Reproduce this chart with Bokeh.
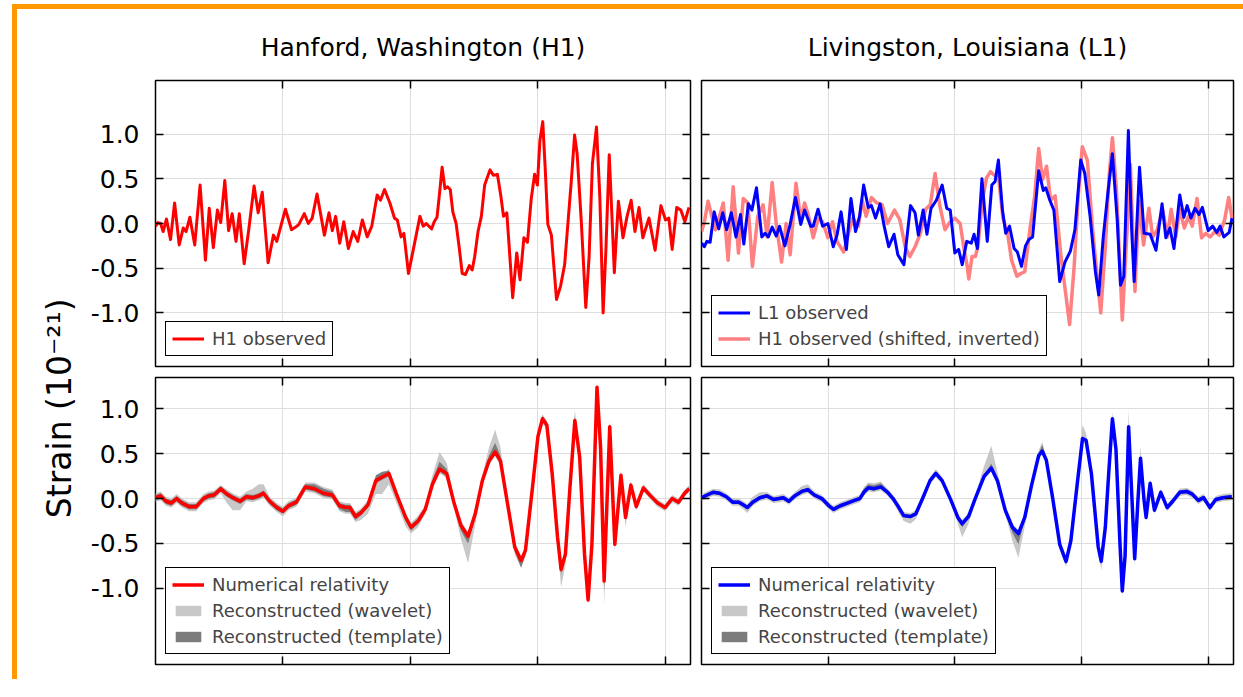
import math
from bokeh.plotting import figure
from bokeh.models import (Range1d, LinearAxis, FixedTicker, Legend, LegendItem, Label,
                          GridBox, PrintfTickFormatter, CustomJSTickFormatter)
from bokeh.embed import file_html
from bokeh.resources import INLINE

# ---------------- data (time in s, strain in 1e-21) ----------------
X_TICKS = [0.30, 0.35, 0.40, 0.45]
Y_TICKS = [-1.0, -0.5, 0.0, 0.5, 1.0]

H1_T = [0.2501, 0.2509, 0.2520, 0.2530, 0.2543, 0.2559, 0.2575, 0.2593, 0.2609, 0.2620,
        0.2635, 0.2654, 0.2675, 0.2696, 0.2711, 0.2727, 0.2743, 0.2756, 0.2772, 0.2787,
        0.2801, 0.2816, 0.2829, 0.2848, 0.2866, 0.2887, 0.2903, 0.2919, 0.2942, 0.2963,
        0.2976, 0.2992, 0.3010, 0.3034, 0.3050, 0.3063, 0.3084, 0.3100, 0.3115, 0.3134,
        0.3163, 0.3181, 0.3194, 0.3207, 0.3223, 0.3239, 0.3257, 0.3276, 0.3294, 0.3312,
        0.3331, 0.3349, 0.3370, 0.3383, 0.3399, 0.3420, 0.3438, 0.3449, 0.3464, 0.3475,
        0.3493, 0.3517, 0.3538, 0.3551,
        0.3563, 0.3573, 0.3584, 0.3594, 0.3605, 0.3615, 0.3625, 0.3636, 0.3646, 0.3657,
        0.3667, 0.3680, 0.3693, 0.3704, 0.3717, 0.3732, 0.3743, 0.3753, 0.3766, 0.3779,
        0.3792, 0.3813, 0.3826, 0.3842, 0.3855, 0.3866, 0.3879, 0.3889, 0.3902, 0.3918,
        0.3931, 0.3946, 0.3960, 0.3975, 0.3988, 0.3999, 0.4009, 0.4020, 0.4030, 0.4040,
        0.4054, 0.4074, 0.4090, 0.4106, 0.4121, 0.4132, 0.4145, 0.4155, 0.4171, 0.4189,
        0.4202, 0.4215, 0.4231, 0.4244, 0.4257, 0.4268, 0.4281, 0.4291, 0.4301, 0.4317,
        0.4335, 0.4351, 0.4367, 0.4382, 0.4398, 0.4413, 0.4437, 0.4461, 0.4484, 0.4502,
        0.4515, 0.4528, 0.4546, 0.4562, 0.4578, 0.4594]
H1_OBS = [-0.03, 0.01, 0.00, -0.09, 0.05, -0.18, 0.23, -0.24, -0.05, -0.09,
          0.07, -0.24, 0.43, -0.41, 0.17, -0.27, 0.15, 0.01, 0.48, -0.08,
          0.11, -0.20, 0.11, -0.45, -0.07, 0.42, 0.12, 0.35, -0.44, -0.13,
          -0.20, -0.03, 0.16, -0.07, -0.04, -0.01, 0.11, 0.00, 0.06, 0.33,
          -0.13, 0.12, -0.08, 0.08, -0.22, 0.02, -0.28, -0.09, -0.20, 0.04,
          -0.15, -0.03, 0.32, 0.26, 0.38, 0.23, 0.06, 0.04, -0.15, -0.11,
          -0.56, -0.22, 0.08, -0.03,
          0.00, -0.03, -0.06, 0.02, 0.07, 0.34, 0.63, 0.39, 0.41, 0.38,
          0.13, 0.00, -0.29, -0.56, -0.57, -0.47, -0.52, -0.37, -0.09, 0.08,
          0.43, 0.60, 0.54, 0.55, 0.32, 0.08, 0.12, -0.29, -0.83, -0.33,
          -0.63, -0.16, -0.21, 0.28, 0.55, 0.43, 0.93, 1.14, 0.60, -0.01,
          -0.13, -0.85, -0.70, -0.46, 0.08, 0.47, 0.99, 0.78, 0.04, -0.94,
          -0.37, 0.67, 1.08, 0.30, -1.00, -0.29, 0.77, 0.12, -0.55, 0.25,
          -0.16, 0.08, 0.26, -0.09, 0.18, -0.16, 0.06, -0.30, 0.20, 0.04,
          0.06, -0.29, 0.18, 0.15, 0.02, 0.18]

L1_T = [0.2501, 0.2511, 0.2521, 0.2534, 0.2550, 0.2568, 0.2584, 0.2599, 0.2618, 0.2636,
        0.2654, 0.2667, 0.2685, 0.2699, 0.2717, 0.2738, 0.2751, 0.2764, 0.2779, 0.2795,
        0.2808, 0.2829, 0.2850, 0.2871, 0.2892, 0.2907, 0.2931, 0.2941, 0.2960, 0.2978,
        0.2999, 0.3020, 0.3035, 0.3051, 0.3072, 0.3090, 0.3108, 0.3124, 0.3140, 0.3158,
        0.3171, 0.3187, 0.3205, 0.3221, 0.3239, 0.3260, 0.3275, 0.3299, 0.3325, 0.3343,
        0.3356, 0.3375, 0.3390, 0.3406, 0.3427, 0.3450, 0.3468, 0.3482, 0.3500, 0.3515,
        0.3529, 0.3547,
        0.3565, 0.3576, 0.3589, 0.3607, 0.3628, 0.3646, 0.3659, 0.3672, 0.3688, 0.3701,
        0.3716, 0.3734, 0.3747, 0.3763, 0.3779, 0.3792, 0.3807, 0.3831, 0.3849, 0.3859,
        0.3875, 0.3891, 0.3914, 0.3935, 0.3956, 0.3974, 0.3997, 0.4013, 0.4034, 0.4055,
        0.4068, 0.4086, 0.4104, 0.4122, 0.4141, 0.4154, 0.4167, 0.4185, 0.4198, 0.4208,
        0.4229, 0.4247, 0.4271, 0.4294, 0.4318, 0.4333, 0.4349, 0.4365, 0.4388, 0.4404,
        0.4417, 0.4432, 0.4448, 0.4464, 0.4477, 0.4500, 0.4518, 0.4534, 0.4547, 0.4562,
        0.4583, 0.4594]
L1_OBS = [-0.22, -0.26, -0.20, -0.21, 0.13, -0.06, 0.12, -0.07, 0.12, -0.15,
          0.10, -0.23, 0.22, 0.15, 0.40, -0.15, -0.11, -0.15, -0.04, -0.14,
          -0.03, -0.25, -0.01, 0.29, -0.01, 0.15, -0.03, -0.03, 0.16, -0.03,
          0.00, -0.26, -0.13, 0.13, -0.29, 0.28, -0.09, 0.08, 0.43, 0.18,
          0.20, 0.06, 0.22, -0.03, -0.26, -0.12, -0.35, -0.46, 0.20, 0.12,
          -0.13, 0.15, -0.12, 0.17, 0.26, 0.43, 0.17, 0.15, -0.33, -0.29,
          -0.46, -0.20,
          -0.22, -0.12, -0.28, 0.50, -0.20, 0.43, 0.47, 0.71, 0.15, -0.11,
          -0.03, -0.28, -0.32, -0.48, -0.25, -0.18, -0.15, 0.59, 0.37, 0.40,
          0.26, 0.15, -0.65, -0.43, -0.31, -0.07, 0.71, 0.56, 0.08, -0.54,
          -0.80, -0.15, 0.34, 0.78, 0.04, -0.69, -0.59, 1.04, -0.07, -0.65,
          0.63, -0.11, -0.12, -0.30, 0.22, -0.16, -0.05, -0.28, 0.32, 0.07,
          0.20, 0.06, 0.17, 0.10, 0.18, -0.08, -0.03, -0.10, -0.03, -0.15,
          -0.10, 0.06]

H1S_T = [0.2501, 0.2513, 0.2526, 0.2539, 0.2555, 0.2571, 0.2586, 0.2605, 0.2625, 0.2646,
         0.2665, 0.2683, 0.2701, 0.2722, 0.2743, 0.2759, 0.2779, 0.2795, 0.2816, 0.2834,
         0.2850, 0.2873, 0.2892, 0.2907, 0.2923, 0.2941, 0.2960, 0.2978, 0.2999, 0.3017,
         0.3035, 0.3061, 0.3080, 0.3098, 0.3119, 0.3134, 0.3150, 0.3171, 0.3192, 0.3213,
         0.3234, 0.3262, 0.3283, 0.3304, 0.3322, 0.3343, 0.3364, 0.3385, 0.3403, 0.3422,
         0.3440, 0.3461, 0.3479, 0.3500, 0.3521, 0.3536, 0.3549,
         0.3555, 0.3568, 0.3581, 0.3591, 0.3609, 0.3625, 0.3641, 0.3656, 0.3672, 0.3690,
         0.3708, 0.3724, 0.3745, 0.3760, 0.3776, 0.3797, 0.3815, 0.3831, 0.3846, 0.3862,
         0.3878, 0.3896, 0.3919, 0.3953, 0.3971, 0.3987, 0.4003, 0.4023, 0.4044, 0.4076,
         0.4094, 0.4109, 0.4122, 0.4138, 0.4161, 0.4180, 0.4193, 0.4211, 0.4227, 0.4245,
         0.4266, 0.4281, 0.4299, 0.4320, 0.4339, 0.4354, 0.4372, 0.4388, 0.4406, 0.4422,
         0.4437, 0.4456, 0.4474, 0.4490, 0.4508, 0.4526, 0.4544, 0.4565, 0.4581, 0.4594]
H1_SHIFTED_INV = [-0.09, 0.04, 0.25, 0.10, -0.07, 0.08, 0.23, -0.41, 0.41, -0.33,
                  0.28, 0.23, -0.48, 0.08, 0.21, -0.15, 0.46, 0.00, -0.43, 0.00,
                  -0.35, 0.45, 0.04, 0.23, 0.08, -0.16, 0.05, 0.02, -0.16, 0.02,
                  -0.20, -0.32, -0.11, 0.06, -0.03, 0.26, 0.08, 0.29, 0.23, 0.21,
                  0.00, 0.15, 0.04, -0.26, -0.37, -0.26, -0.11, 0.16, 0.21, 0.56,
                  0.21, -0.07, 0.01, 0.06, 0.00, -0.28, -0.48,
                  -0.62, -0.37, -0.37, -0.26, 0.26, 0.51, 0.58, 0.54, 0.53, 0.06,
                  -0.11, -0.41, -0.59, -0.56, -0.54, -0.05, 0.30, 0.84, 0.49, 0.64,
                  0.26, 0.31, -0.37, -1.13, -0.48, 0.30, 0.86, 0.71, -0.07, -1.00,
                  -0.26, 0.53, 0.96, 0.38, -1.08, -0.07, 0.66, -0.76, 0.25, -0.24,
                  0.17, -0.15, -0.07, 0.16, -0.15, 0.16, -0.15, 0.16, -0.05, 0.08,
                  -0.03, 0.28, -0.16, -0.11, -0.15, -0.09, -0.13, 0.04, 0.29, 0.06]

# H1 numerical relativity + reconstruction band deviations
H1NR_T = [0.2500, 0.2520, 0.2541, 0.2562, 0.2583, 0.2604, 0.2632, 0.2660, 0.2688, 0.2709,
          0.2730, 0.2756, 0.2780, 0.2803, 0.2832, 0.2857, 0.2882, 0.2905, 0.2924, 0.2948,
          0.2976, 0.3000, 0.3022, 0.3053, 0.3088, 0.3124, 0.3159, 0.3194, 0.3222, 0.3247,
          0.3264, 0.3285, 0.3306, 0.3334, 0.3365, 0.3390, 0.3416, 0.3446, 0.3482, 0.3503,
          0.3531, 0.3559, 0.3587, 0.3615, 0.3643, 0.3671, 0.3699, 0.3727, 0.3755, 0.3783,
          0.3809, 0.3833, 0.3854, 0.3882, 0.3910, 0.3935, 0.3952, 0.3980, 0.4001, 0.4019,
          0.4036, 0.4057, 0.4078, 0.4092, 0.4109, 0.4127, 0.4146, 0.4165, 0.4184, 0.4198,
          0.4213, 0.4233, 0.4247, 0.4261, 0.4283, 0.4303, 0.4327, 0.4345, 0.4366, 0.4387,
          0.4415, 0.4443, 0.4471, 0.4500, 0.4528, 0.4553, 0.4577, 0.4595]
H1_NR = [0.01, 0.03, -0.03, -0.05, 0.00, -0.05, -0.09, -0.09, 0.00, 0.03,
         0.04, 0.11, 0.05, 0.01, -0.03, 0.02, 0.01, 0.03, 0.06, -0.03,
         -0.10, -0.14, -0.08, -0.04, 0.13, 0.11, 0.06, 0.04, -0.08, -0.10,
         -0.10, -0.20, -0.16, -0.07, 0.20, 0.24, 0.28, 0.05, -0.21, -0.32,
         -0.25, -0.12, 0.16, 0.33, 0.28, -0.04, -0.30, -0.42, -0.17, 0.20,
         0.42, 0.52, 0.42, -0.06, -0.54, -0.69, -0.58, 0.13, 0.69, 0.89,
         0.82, 0.28, -0.43, -0.79, -0.62, 0.13, 0.87, 0.46, -0.62, -1.13,
         -0.51, 1.24, 0.57, -0.92, 0.80, -0.51, 0.26, -0.21, 0.15, -0.09,
         0.12, 0.03, -0.05, -0.10, 0.00, -0.04, 0.06, 0.11]
H1_WAV_UP = [0.05, 0.05, 0.05, 0.05, 0.05, 0.05, 0.05, 0.05, 0.05, 0.05,
             0.05, 0.04, 0.05, 0.05, 0.05, 0.06, 0.10, 0.13, 0.10, 0.05,
             0.05, 0.05, 0.05, 0.05, 0.05, 0.07, 0.07, 0.06, 0.05, 0.05,
             0.05, 0.05, 0.05, 0.05, 0.03, 0.03, 0.05, 0.04, 0.03, 0.05,
             0.06, 0.05, 0.10, 0.19, 0.12, 0.06, 0.05, 0.05, 0.05, 0.06,
             0.15, 0.25, 0.15, 0.05, 0.05, 0.05, 0.05, 0.05, 0.05, 0.05,
             0.05, 0.05, 0.05, 0.05, 0.05, 0.05, 0.12, 0.05, 0.05, 0.05,
             0.05, 0.06, 0.05, 0.05, 0.08, 0.05, 0.06, 0.05, 0.05, 0.04,
             0.04, 0.04, 0.04, 0.04, 0.04, 0.04, 0.04, 0.04]
H1_WAV_DN = [0.05, 0.05, 0.05, 0.05, 0.05, 0.05, 0.05, 0.05, 0.05, 0.05,
             0.05, 0.05, 0.10, 0.14, 0.10, 0.05, 0.05, 0.05, 0.05, 0.05,
             0.05, 0.06, 0.05, 0.05, 0.05, 0.05, 0.05, 0.05, 0.06, 0.07,
             0.07, 0.06, 0.08, 0.10, 0.15, 0.19, 0.12, 0.10, 0.10, 0.07,
             0.07, 0.05, 0.05, 0.05, 0.05, 0.05, 0.15, 0.30, 0.12, 0.05,
             0.05, 0.05, 0.05, 0.05, 0.08, 0.08, 0.07, 0.05, 0.05, 0.05,
             0.05, 0.05, 0.10, 0.20, 0.12, 0.05, 0.05, 0.05, 0.06, 0.05,
             0.05, 0.05, 0.05, 0.26, 0.05, 0.08, 0.05, 0.11, 0.05, 0.04,
             0.04, 0.04, 0.04, 0.04, 0.04, 0.04, 0.04, 0.04]
H1_TPL_UP = [0.03, 0.03, 0.03, 0.03, 0.03, 0.03, 0.03, 0.03, 0.03, 0.03,
             0.03, 0.03, 0.03, 0.03, 0.03, 0.03, 0.03, 0.03, 0.03, 0.03,
             0.03, 0.03, 0.03, 0.03, 0.03, 0.05, 0.05, 0.04, 0.03, 0.03,
             0.03, 0.03, 0.03, 0.03, 0.06, 0.06, 0.03, 0.03, 0.03, 0.03,
             0.03, 0.03, 0.05, 0.08, 0.05, 0.03, 0.03, 0.03, 0.03, 0.03,
             0.06, 0.10, 0.06, 0.03, 0.03, 0.03, 0.03, 0.03, 0.03, 0.03,
             0.03, 0.03, 0.03, 0.03, 0.03, 0.03, 0.05, 0.03, 0.03, 0.03,
             0.03, 0.03, 0.03, 0.03, 0.04, 0.03, 0.03, 0.03, 0.03, 0.02,
             0.02, 0.02, 0.02, 0.02, 0.02, 0.02, 0.02, 0.02]
H1_TPL_DN = [0.03, 0.03, 0.03, 0.03, 0.03, 0.03, 0.03, 0.03, 0.03, 0.03,
             0.03, 0.03, 0.03, 0.03, 0.03, 0.03, 0.03, 0.03, 0.03, 0.03,
             0.03, 0.03, 0.03, 0.03, 0.03, 0.03, 0.03, 0.03, 0.04, 0.05,
             0.05, 0.04, 0.03, 0.03, 0.03, 0.03, 0.03, 0.03, 0.04, 0.04,
             0.03, 0.03, 0.03, 0.03, 0.03, 0.03, 0.06, 0.08, 0.04, 0.03,
             0.03, 0.03, 0.03, 0.03, 0.05, 0.08, 0.05, 0.03, 0.03, 0.03,
             0.03, 0.03, 0.03, 0.05, 0.04, 0.03, 0.03, 0.03, 0.03, 0.03,
             0.03, 0.03, 0.03, 0.12, 0.03, 0.04, 0.03, 0.03, 0.03, 0.02,
             0.02, 0.02, 0.02, 0.02, 0.02, 0.02, 0.02, 0.02]

# L1 numerical relativity + reconstruction band deviations
L1NR_T = [0.2501, 0.2522, 0.2546, 0.2571, 0.2598, 0.2623, 0.2647, 0.2665, 0.2681, 0.2702,
          0.2730, 0.2758, 0.2785, 0.2806, 0.2823, 0.2845, 0.2868, 0.2896, 0.2920, 0.2945,
          0.2975, 0.3003, 0.3021, 0.3048, 0.3076, 0.3104, 0.3125, 0.3141, 0.3159, 0.3180,
          0.3208, 0.3235, 0.3256, 0.3277, 0.3298, 0.3325, 0.3346, 0.3374, 0.3402, 0.3425,
          0.3450, 0.3485, 0.3512, 0.3529, 0.3554, 0.3582, 0.3616, 0.3644, 0.3668, 0.3699,
          0.3727, 0.3751, 0.3776, 0.3803, 0.3831, 0.3845, 0.3861, 0.3886, 0.3914, 0.3939,
          0.3958, 0.3983, 0.4004, 0.4018, 0.4039, 0.4066, 0.4078, 0.4094, 0.4108, 0.4122,
          0.4136, 0.4152, 0.4161, 0.4172, 0.4186, 0.4199, 0.4210, 0.4222, 0.4233, 0.4247,
          0.4255, 0.4271, 0.4288, 0.4313, 0.4338, 0.4360, 0.4388, 0.4415, 0.4437, 0.4461,
          0.4482, 0.4507, 0.4530, 0.4558, 0.4593]
L1_NR = [0.01, 0.04, 0.07, 0.06, 0.02, -0.04, -0.04, -0.07, -0.10, -0.04,
         0.01, 0.03, -0.01, 0.00, 0.01, -0.03, 0.03, 0.08, 0.10, 0.04,
         0.00, -0.08, -0.12, -0.08, -0.05, -0.02, 0.00, 0.07, 0.12, 0.11,
         0.13, 0.07, 0.00, -0.09, -0.19, -0.20, -0.17, 0.01, 0.20, 0.28,
         0.20, -0.02, -0.21, -0.28, -0.20, 0.01, 0.25, 0.34, 0.20, -0.13,
         -0.32, -0.39, -0.21, 0.15, 0.48, 0.53, 0.43, 0.01, -0.51, -0.70,
         -0.47, 0.16, 0.67, 0.65, 0.28, -0.54, -0.70, -0.32, 0.31, 0.89,
         0.55, -0.51, -1.03, -0.64, 0.80, 0.01, -0.67, -0.06, 0.45, -0.02,
         -0.21, 0.17, -0.13, 0.07, -0.10, -0.03, 0.07, 0.08, 0.05, -0.02,
         0.01, -0.10, -0.01, 0.01, 0.02]
L1_WAV_UP = [0.04, 0.04, 0.04, 0.04, 0.04, 0.04, 0.04, 0.04, 0.04, 0.06,
             0.06, 0.04, 0.04, 0.04, 0.04, 0.04, 0.04, 0.06, 0.06, 0.04,
             0.04, 0.04, 0.04, 0.04, 0.04, 0.04, 0.04, 0.06, 0.06, 0.06,
             0.06, 0.04, 0.04, 0.04, 0.04, 0.04, 0.04, 0.04, 0.04, 0.05,
             0.04, 0.04, 0.04, 0.04, 0.04, 0.04, 0.12, 0.25, 0.10, 0.04,
             0.04, 0.04, 0.04, 0.04, 0.06, 0.10, 0.04, 0.04, 0.04, 0.04,
             0.04, 0.04, 0.15, 0.08, 0.04, 0.04, 0.04, 0.04, 0.04, 0.07,
             0.04, 0.04, 0.04, 0.04, 0.19, 0.04, 0.04, 0.04, 0.14, 0.04,
             0.04, 0.04, 0.04, 0.04, 0.04, 0.04, 0.04, 0.04, 0.04, 0.04,
             0.04, 0.04, 0.04, 0.04, 0.04]
L1_WAV_DN = [0.04, 0.04, 0.04, 0.04, 0.04, 0.04, 0.04, 0.05, 0.06, 0.04,
             0.04, 0.04, 0.04, 0.04, 0.04, 0.04, 0.04, 0.04, 0.04, 0.04,
             0.04, 0.04, 0.04, 0.04, 0.04, 0.04, 0.04, 0.04, 0.04, 0.04,
             0.04, 0.04, 0.04, 0.06, 0.06, 0.08, 0.06, 0.04, 0.04, 0.04,
             0.04, 0.04, 0.07, 0.15, 0.08, 0.04, 0.04, 0.04, 0.04, 0.04,
             0.15, 0.27, 0.10, 0.04, 0.04, 0.04, 0.04, 0.04, 0.06, 0.06,
             0.04, 0.04, 0.04, 0.04, 0.04, 0.06, 0.10, 0.04, 0.04, 0.04,
             0.04, 0.04, 0.07, 0.04, 0.04, 0.04, 0.08, 0.04, 0.04, 0.04,
             0.04, 0.04, 0.04, 0.04, 0.04, 0.04, 0.04, 0.04, 0.04, 0.04,
             0.04, 0.04, 0.04, 0.04, 0.04]
L1_TPL_UP = [0.02, 0.02, 0.02, 0.02, 0.02, 0.02, 0.02, 0.02, 0.02, 0.02,
             0.02, 0.02, 0.02, 0.02, 0.02, 0.02, 0.02, 0.02, 0.02, 0.02,
             0.02, 0.02, 0.02, 0.02, 0.02, 0.02, 0.02, 0.04, 0.04, 0.04,
             0.04, 0.02, 0.02, 0.02, 0.02, 0.02, 0.02, 0.02, 0.02, 0.02,
             0.02, 0.02, 0.02, 0.02, 0.02, 0.02, 0.02, 0.05, 0.02, 0.02,
             0.02, 0.02, 0.02, 0.02, 0.02, 0.07, 0.02, 0.02, 0.02, 0.02,
             0.02, 0.02, 0.02, 0.02, 0.02, 0.02, 0.02, 0.02, 0.02, 0.02,
             0.02, 0.02, 0.02, 0.02, 0.02, 0.02, 0.02, 0.02, 0.02, 0.02,
             0.02, 0.02, 0.02, 0.02, 0.02, 0.02, 0.02, 0.02, 0.02, 0.02,
             0.02, 0.02, 0.02, 0.02, 0.02]
L1_TPL_DN = [0.02, 0.02, 0.02, 0.02, 0.02, 0.02, 0.02, 0.02, 0.02, 0.02,
             0.02, 0.02, 0.02, 0.02, 0.02, 0.02, 0.02, 0.02, 0.02, 0.02,
             0.02, 0.02, 0.02, 0.02, 0.02, 0.02, 0.02, 0.02, 0.02, 0.02,
             0.02, 0.02, 0.02, 0.02, 0.02, 0.02, 0.02, 0.02, 0.02, 0.02,
             0.02, 0.02, 0.02, 0.04, 0.02, 0.02, 0.02, 0.02, 0.02, 0.02,
             0.06, 0.12, 0.02, 0.02, 0.02, 0.02, 0.02, 0.02, 0.02, 0.03,
             0.02, 0.02, 0.02, 0.02, 0.02, 0.02, 0.02, 0.02, 0.02, 0.02,
             0.02, 0.02, 0.02, 0.02, 0.02, 0.02, 0.02, 0.02, 0.02, 0.02,
             0.02, 0.02, 0.02, 0.02, 0.02, 0.02, 0.02, 0.02, 0.02, 0.02,
             0.02, 0.02, 0.02, 0.02, 0.02]

# ---------------- styling ----------------
FONT = "DejaVu Sans"
RED = "#ff0000"
BLUE = "#0000ff"
PINK = "#ff8080"
LIGHT = "#c8c8c8"
DARK = "#7c7c7c"
ORANGE = "#ff9900"


def trim(*cols):
    n = min(len(c) for c in cols)
    return [list(c[:n]) for c in cols]


def panel(title, lb, rb, tb, bb, fw, fh, yr, labels):
    p = figure(width=lb + fw + rb, height=tb + fh + bb,
               x_range=Range1d(0.25, 0.46), y_range=Range1d(*yr),
               output_backend="svg", toolbar_location=None, tools="",
               min_border_left=lb, min_border_right=rb,
               min_border_top=tb, min_border_bottom=bb,
               title=title)
    p.add_layout(LinearAxis(), "above")
    p.add_layout(LinearAxis(), "right")
    for ax in list(p.xaxis) + list(p.yaxis):
        ax.axis_line_color = None
        ax.major_tick_in = 8
        ax.major_tick_out = 0
        ax.minor_tick_in = 0
        ax.minor_tick_out = 0
        ax.major_tick_line_color = "black"
        ax.major_tick_line_width = 1.5
    for ax in p.xaxis:
        ax.ticker = FixedTicker(ticks=X_TICKS)
    for ax in p.yaxis:
        ax.ticker = FixedTicker(ticks=Y_TICKS)
    hidden = list(p.xaxis) + list(p.yaxis)
    if labels:
        la = p.left[0]
        hidden = [a for a in hidden if a is not la]
        la.formatter = PrintfTickFormatter(format="%.1f")
        la.major_label_text_font = FONT
        la.major_label_text_font_size = "25px"
        la.major_label_text_color = "black"
        la.major_label_standoff = 16
    for ax in hidden:
        ax.formatter = CustomJSTickFormatter(code="return ''")
        ax.major_label_text_font_size = "1px"
        ax.major_label_standoff = 0
    p.xgrid.ticker = FixedTicker(ticks=X_TICKS)
    p.ygrid.ticker = FixedTicker(ticks=Y_TICKS)
    p.grid.grid_line_color = "#dedede"
    p.grid.grid_line_width = 1
    p.outline_line_color = "black"
    p.outline_line_width = 1.5
    p.outline_line_alpha = 1
    p.background_fill_color = "white"
    p.border_fill_color = "white"
    if title:
        p.title.align = "center"
        p.title.text_font = FONT
        p.title.text_font_size = "25px"
        p.title.text_font_style = "normal"
        p.title.text_color = "black"
        p.title.standoff = 37
    return p


def add_legend(p, items):
    lg = Legend(items=items, location="bottom_left")
    lg.margin = 10
    lg.padding = 6
    lg.spacing = 5
    lg.glyph_width = 32
    lg.glyph_height = 13
    lg.label_height = 17
    lg.label_standoff = 8
    lg.label_text_font = FONT
    lg.label_text_font_size = "18px"
    lg.label_text_baseline = "middle"
    lg.border_line_color = "black"
    lg.border_line_width = 1.5
    lg.border_line_alpha = 1
    lg.background_fill_color = "white"
    lg.background_fill_alpha = 1
    p.add_layout(lg)


TOP_Y = (-1.6, 1.6)
BOT_Y = (-1.85, 1.35)

tl = panel("Hanford, Washington (H1)", 75, 5, 71, 5, 535, 286, TOP_Y, True)
tr = panel("Livingston, Louisiana (L1)", 6, 2, 71, 5, 532, 286, TOP_Y, False)
bl = panel(None, 75, 5, 6, 15, 535, 287, BOT_Y, True)
br = panel(None, 6, 2, 6, 15, 532, 287, BOT_Y, False)

# top-left: H1 observed
t, h = trim(H1_T, H1_OBS)
r_h1 = tl.line(t, h, line_color=RED, line_width=3, line_join="round")
add_legend(tl, [LegendItem(label="H1 observed", renderers=[r_h1])])

# top-right: L1 observed + H1 shifted/inverted
t, h = trim(H1S_T, H1_SHIFTED_INV)
r_h1s = tr.line(t, h, line_color=PINK, line_width=3.5, line_join="round")
t, h = trim(L1_T, L1_OBS)
r_l1 = tr.line(t, h, line_color=BLUE, line_width=3, line_join="round")
add_legend(tr, [LegendItem(label="L1 observed", renderers=[r_l1]),
                LegendItem(label="H1 observed (shifted, inverted)", renderers=[r_h1s])])


def recon(p, tt, nr, wu, wd, tu, td, color):
    tt, nr, wu, wd, tu, td = trim(tt, nr, wu, wd, tu, td)
    r_w = p.varea(x=tt, y1=[a - b for a, b in zip(nr, wd)], y2=[a + b for a, b in zip(nr, wu)],
                  fill_color=LIGHT, fill_alpha=1)
    r_t = p.varea(x=tt, y1=[a - b for a, b in zip(nr, td)], y2=[a + b for a, b in zip(nr, tu)],
                  fill_color=DARK, fill_alpha=1)
    r_n = p.line(tt, nr, line_color=color, line_width=3.5, line_join="round")
    add_legend(p, [LegendItem(label="Numerical relativity", renderers=[r_n]),
                   LegendItem(label="Reconstructed (wavelet)", renderers=[r_w]),
                   LegendItem(label="Reconstructed (template)", renderers=[r_t])])


recon(bl, H1NR_T, H1_NR, H1_WAV_UP, H1_WAV_DN, H1_TPL_UP, H1_TPL_DN, RED)
recon(br, L1NR_T, L1_NR, L1_WAV_UP, L1_WAV_DN, L1_TPL_UP, L1_TPL_DN, BLUE)

# shared y-axis label
LW, LH = 63, 670
lab = figure(width=LW, height=LH, x_range=Range1d(0, LW), y_range=Range1d(0, LH),
             x_axis_type=None, y_axis_type=None, output_backend="svg",
             toolbar_location=None, tools="", min_border=0, title=None)
lab.outline_line_color = None
lab.grid.visible = False
lab.add_layout(Label(x=42, y=LH - 376, text="Strain (10\u207b\u00b2\u00b9)",
                     angle=math.pi / 2, text_align="center", text_baseline="middle",
                     text_font=FONT, text_font_size="33px", text_color="black"))

layout = GridBox(children=[(lab, 0, 0, 2, 1), (tl, 0, 1), (tr, 0, 2), (bl, 1, 1), (br, 1, 2)],
                 spacing=0,
                 styles={"border-top": "5px solid " + ORANGE,
                         "border-left": "5px solid " + ORANGE,
                         "margin-top": "4px", "margin-left": "12px",
                         "padding-right": "8px",
                         "background-color": "white"})

open("out.html", "w").write(file_html(layout, INLINE))
